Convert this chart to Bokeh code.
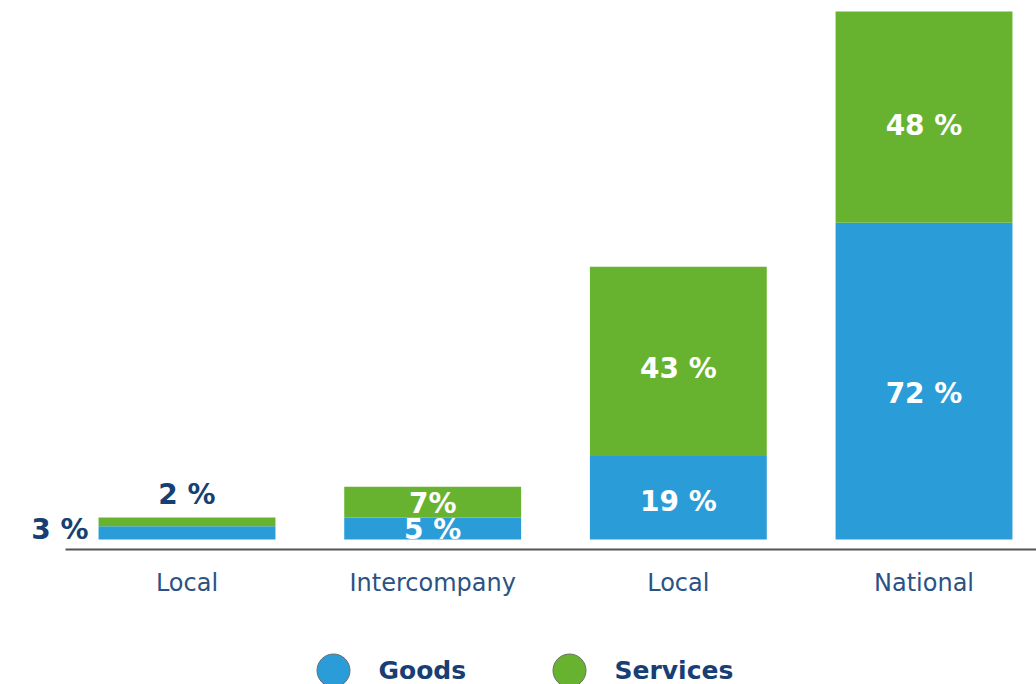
from bokeh.plotting import figure
from bokeh.models import Range1d, FixedTicker, ColumnDataSource
from bokeh.layouts import column
from bokeh.embed import file_html
from bokeh.resources import INLINE
from bokeh.core.properties import value

# ---- data ----
categories = ["Local", "Intercompany", "Local", "National"]
series = ["Goods", "Services"]
goods = [3, 5, 19, 72]
services = [2, 7, 43, 48]
goods_labels = ["3 %", "5 %", "19 %", "72 %"]
services_labels = ["2 %", "7%", "43 %", "48 %"]
colors = ["#2a9dd8", "#67b32f"]

NAVY = "#173f73"
TICK = "#2b5283"
BOLD = value("DejaVu Sans")
xs = list(range(len(categories)))
BAR_W = 0.72
W = 1036

p = figure(width=W, height=616,
           x_range=Range1d(-0.7592, 3.4579), y_range=Range1d(-2.273, 122.5),
           output_backend="svg", toolbar_location=None, y_axis_location=None,
           min_border_left=0, min_border_right=0, min_border_top=0, min_border_bottom=67)
p.outline_line_color = None
p.grid.visible = False

src = ColumnDataSource(dict(x=xs, Goods=goods, Services=services))
p.vbar_stack(series, x="x", width=BAR_W, color=colors, line_color=None, source=src)

ax = p.xaxis[0]
ax.ticker = FixedTicker(ticks=xs)
ax.bounds = (-0.4946, 3.4579)
ax.major_label_overrides = {i: c for i, c in enumerate(categories)}
ax.major_tick_line_color = None
ax.minor_tick_line_color = None
ax.axis_line_color = "#555555"
ax.axis_line_width = 2
ax.major_label_text_font = "DejaVu Sans"
ax.major_label_text_font_size = "24px"
ax.major_label_text_color = TICK
ax.major_label_standoff = 13

# ---- value labels ----
inside = dict(x=[], y=[], t=[])
left_out = dict(x=[], y=[], t=[])
top_out = dict(x=[], y=[], t=[])
for i in xs:
    total = goods[i] + services[i]
    if total < 10:
        left_out["x"].append(i - BAR_W / 2)
        left_out["y"].append(goods[i] / 2)
        left_out["t"].append(goods_labels[i])
        top_out["x"].append(i)
        top_out["y"].append(total)
        top_out["t"].append(services_labels[i])
    else:
        inside["x"] += [i, i]
        inside["y"] += [goods[i] * 0.46, goods[i] + services[i] * 0.46]
        inside["t"] += [goods_labels[i], services_labels[i]]

common = dict(text="t", text_font=BOLD, text_font_style="bold", text_font_size="28px")
p.text(x="x", y="y", source=ColumnDataSource(inside), text_color="white",
       text_align="center", text_baseline="middle", **common)
p.text(x="x", y="y", source=ColumnDataSource(left_out), text_color=NAVY,
       text_align="right", text_baseline="middle", x_offset=-10, y_offset=-3, **common)
p.text(x="x", y="y", source=ColumnDataSource(top_out), text_color=NAVY,
       text_align="center", text_baseline="bottom", y_offset=-6, **common)

# ---- legend (separate strip, pixel units) ----
LH = 68
lg = figure(width=W, height=LH, x_range=Range1d(0, W), y_range=Range1d(LH, 0),
            output_backend="svg", toolbar_location=None,
            x_axis_location=None, y_axis_location=None,
            min_border=0, min_border_left=0, min_border_right=0,
            min_border_top=0, min_border_bottom=0)
lg.outline_line_color = None
lg.grid.visible = False
start, step = 333, 236
lx = [start + k * step for k in range(len(series))]
ly = [54] * len(series)
lg.scatter(x=lx, y=ly, size=33, fill_color=colors, line_color="#6d6d6d", line_width=1)
lg.text(x=[v + 45 for v in lx], y=ly, text=series, text_font=BOLD, text_font_style="bold",
        text_font_size="25px", text_color=NAVY, text_baseline="middle", text_align="left")

layout = column(p, lg, spacing=0)
open("out.html", "w").write(file_html(layout, INLINE))
